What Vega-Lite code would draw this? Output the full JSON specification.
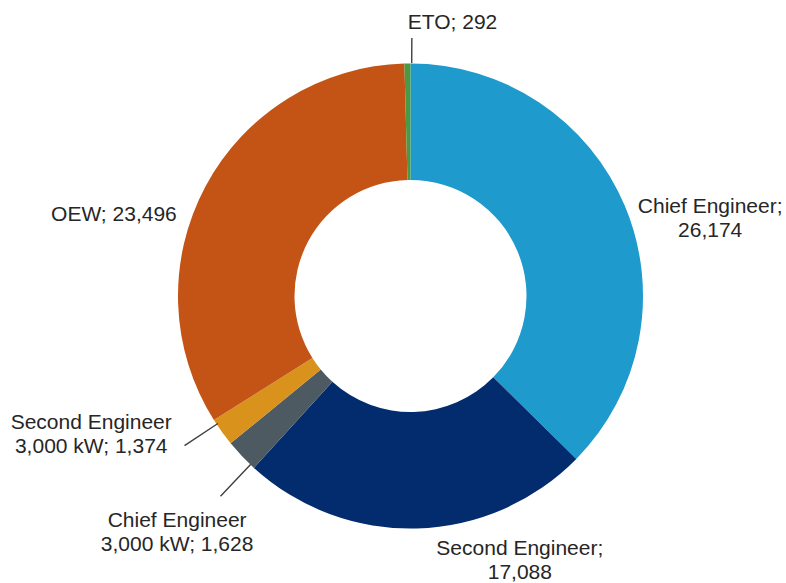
{
  "$schema": "https://vega.github.io/schema/vega-lite/v6.json",
  "width": 751,
  "height": 574,
  "autosize": "none",
  "padding": {"left": 35, "top": 9, "right": 0, "bottom": 0},
  "background": "white",
  "config": {"view": {"stroke": null}, "text": {"font": "Liberation Sans", "fontSize": 21, "fill": "#262626", "lineHeight": 24, "align": "center", "baseline": "middle", "lineBreak": "\n"}},
  "data": {"values": [
    {"cat": "Chief Engineer", "value": 26174, "order": 1, "label": "Chief Engineer;\n26,174"},
    {"cat": "Second Engineer", "value": 17088, "order": 2, "label": "Second Engineer;\n17,088"},
    {"cat": "Chief Engineer 3,000 kW", "value": 1628, "order": 3, "label": "Chief Engineer\n3,000 kW; 1,628"},
    {"cat": "Second Engineer 3,000 kW", "value": 1374, "order": 4, "label": "Second Engineer\n3,000 kW; 1,374"},
    {"cat": "OEW", "value": 23496, "order": 5, "label": "OEW; 23,496"},
    {"cat": "ETO", "value": 292, "order": 6, "label": "ETO; 292"}
  ]},
  "encoding": {
    "theta": {"field": "value", "type": "quantitative", "stack": true},
    "order": {"field": "order", "type": "quantitative"},
    "detail": {"field": "cat", "type": "nominal"}
  },
  "layer": [
    {
      "mark": {"type": "arc", "innerRadius": 116, "outerRadius": 232.5},
      "encoding": {
        "color": {"field": "cat", "type": "nominal", "legend": null,
          "scale": {"domain": ["Chief Engineer", "Second Engineer", "Chief Engineer 3,000 kW", "Second Engineer 3,000 kW", "OEW", "ETO"],
                    "range": ["#1E9ACD", "#022C6E", "#4E5A62", "#D9921B", "#C45316", "#4A9A45"]}}
      }
    },
    {
      "transform": [
        {"stack": "value", "groupby": [], "sort": [{"field": "order"}], "as": ["v0", "v1"]},
        {"filter": "datum.cat === 'ETO'"}
      ],
      "mark": {"type": "arc", "innerRadius": 233, "outerRadius": 258, "thetaOffset": 0.0314, "theta2Offset": 0.0314, "fillOpacity": 0, "stroke": "#404040", "strokeWidth": 1.4},
      "encoding": {
        "theta": {"field": "v0", "type": "quantitative", "stack": null},
        "theta2": {"field": "v0"}
      }
    },
    {
      "transform": [
        {"stack": "value", "groupby": [], "sort": [{"field": "order"}], "as": ["v0", "v1"]},
        {"filter": "datum.cat === 'Chief Engineer 3,000 kW'"}
      ],
      "mark": {"type": "arc", "innerRadius": 232, "outerRadius": 276, "thetaOffset": 0.0206, "theta2Offset": 0.0206, "fillOpacity": 0, "stroke": "#404040", "strokeWidth": 1.4},
      "encoding": {
        "theta": {"field": "v0", "type": "quantitative", "stack": null},
        "theta2": {"field": "v0"}
      }
    },
    {
      "transform": [
        {"stack": "value", "groupby": [], "sort": [{"field": "order"}], "as": ["v0", "v1"]},
        {"filter": "datum.cat === 'Second Engineer 3,000 kW'"}
      ],
      "mark": {"type": "arc", "innerRadius": 231, "outerRadius": 271, "thetaOffset": 0.1014, "theta2Offset": 0.1014, "fillOpacity": 0, "stroke": "#404040", "strokeWidth": 1.4},
      "encoding": {
        "theta": {"field": "v0", "type": "quantitative", "stack": null},
        "theta2": {"field": "v0"}
      }
    },
    {
      "mark": {"type": "text", "radius": 300, "dx": 23, "dy": 26.5},
      "encoding": {"text": {"condition": {"test": "datum.cat === 'Chief Engineer'", "field": "label", "type": "nominal"}, "value": ""}}
    },
    {
      "mark": {"type": "text", "radius": 265, "dx": 102, "dy": -12},
      "encoding": {"text": {"condition": {"test": "datum.cat === 'Second Engineer'", "field": "label", "type": "nominal"}, "value": ""}}
    },
    {
      "mark": {"type": "text", "radius": 300, "dx": -32, "dy": 60},
      "encoding": {"text": {"condition": {"test": "datum.cat === 'OEW'", "field": "label", "type": "nominal"}, "value": ""}}
    },
    {
      "mark": {"type": "text", "radius": 273.5, "dx": 45.6, "dy": 0},
      "encoding": {"text": {"condition": {"test": "datum.cat === 'ETO'", "field": "label", "type": "nominal"}, "value": ""}}
    },
    {
      "mark": {"type": "text", "radius": 290, "dx": -84, "dy": -43},
      "encoding": {"text": {"condition": {"test": "datum.cat === 'Second Engineer 3,000 kW'", "field": "label", "type": "nominal"}, "value": ""}}
    },
    {
      "mark": {"type": "text", "radius": 290, "dx": -23, "dy": 25},
      "encoding": {"text": {"condition": {"test": "datum.cat === 'Chief Engineer 3,000 kW'", "field": "label", "type": "nominal"}, "value": ""}}
    }
  ]
}
